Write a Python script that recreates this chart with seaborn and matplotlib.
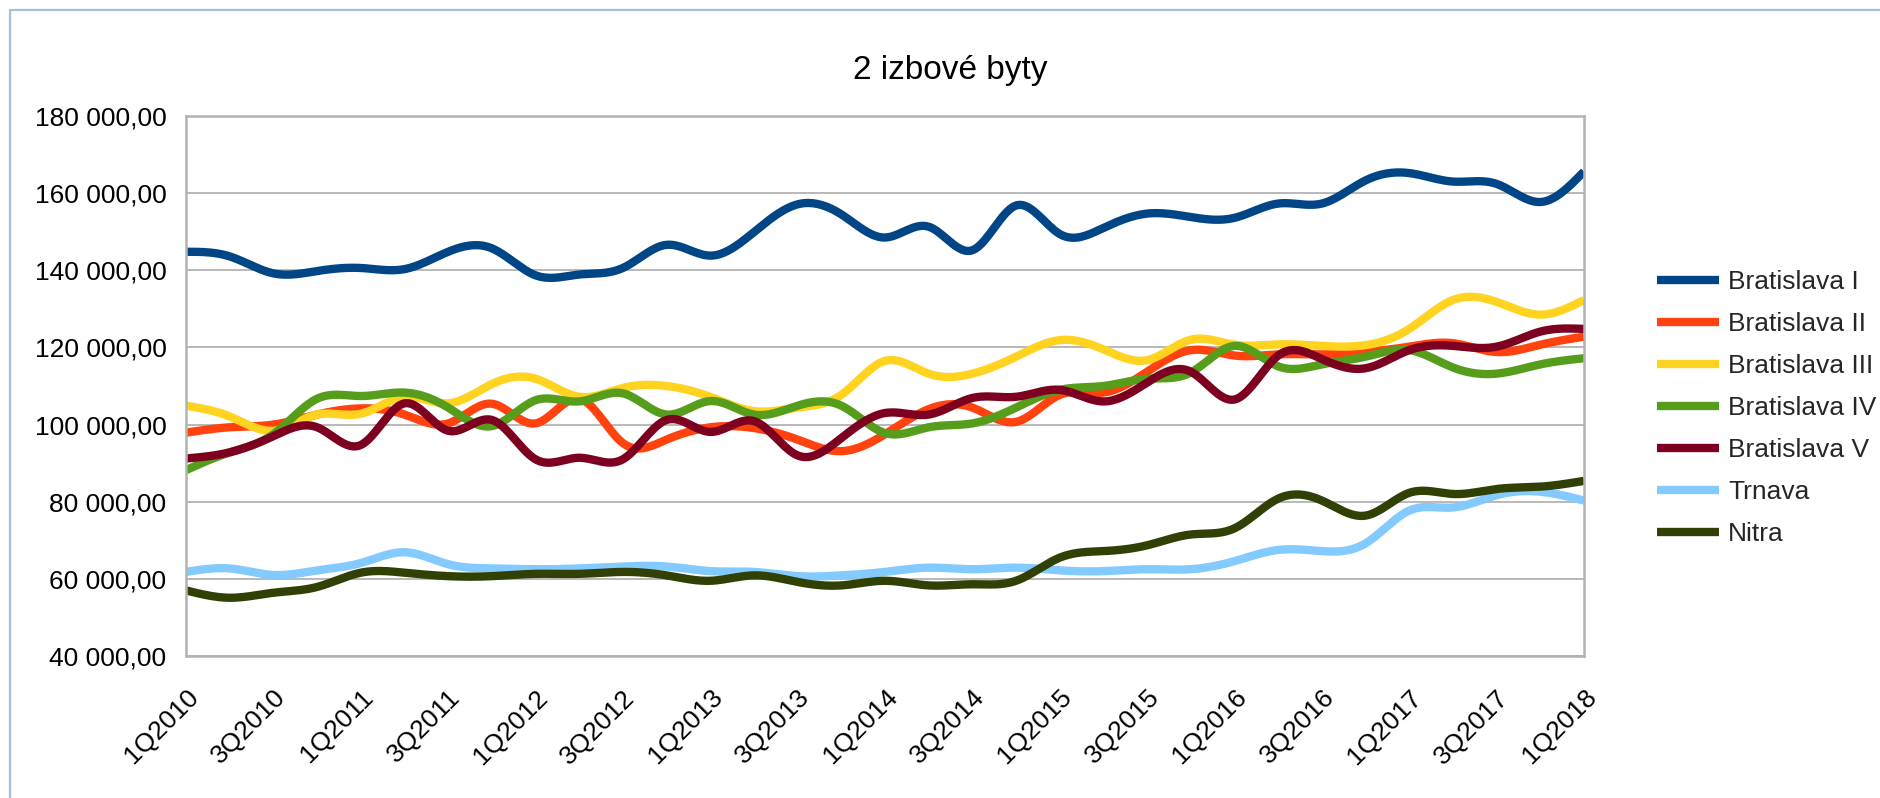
import numpy as np
import pandas as pd
import matplotlib
matplotlib.use("Agg")
import matplotlib.pyplot as plt
from matplotlib.lines import Line2D
from matplotlib.ticker import FuncFormatter
import seaborn as sns

quarters = ["1Q2010", "2Q2010", "3Q2010", "4Q2010",
            "1Q2011", "2Q2011", "3Q2011", "4Q2011",
            "1Q2012", "2Q2012", "3Q2012", "4Q2012",
            "1Q2013", "2Q2013", "3Q2013", "4Q2013",
            "1Q2014", "2Q2014", "3Q2014", "4Q2014",
            "1Q2015", "2Q2015", "3Q2015", "4Q2015",
            "1Q2016", "2Q2016", "3Q2016", "4Q2016",
            "1Q2017", "2Q2017", "3Q2017", "4Q2017",
            "1Q2018"]

series_names = ["Bratislava I", "Bratislava II", "Bratislava III", "Bratislava IV",
                "Bratislava V", "Trnava", "Nitra"]

bratislava_1 = [144800, 143600, 139200, 139800, 140600, 140300, 144800, 145700,
                138700, 138900, 140600, 146600, 143800, 149900, 157100, 154500,
                148500, 151300, 145200, 156800, 149400, 151000, 154700, 153800,
                153600, 157300, 157300, 163300, 165200, 163000, 162400, 157700,
                165600]
bratislava_2 = [97900, 99300, 100000, 102600, 104200, 102600, 100300, 105400,
                100300, 106700, 95200, 96100, 99300, 99100, 96100, 93100,
                97500, 104000, 104400, 100700, 107700, 108300, 113700, 119300,
                117900, 118200, 118200, 118800, 120200, 121100, 118800, 120700,
                122800]
bratislava_3 = [104900, 102100, 98400, 102600, 102800, 107200, 105500, 110500,
                111900, 107200, 109500, 110000, 107200, 103500, 104400, 107700,
                116500, 113200, 113200, 117600, 121900, 119500, 116700, 122000,
                120700, 120800, 120400, 120600, 124800, 132300, 131800, 128500,
                132300]
bratislava_4 = [88200, 92800, 97500, 106700, 107400, 108300, 104400, 99600,
                106300, 106000, 108100, 102600, 106100, 102600, 104900, 104900,
                97800, 99300, 100300, 104400, 109000, 110000, 111900, 113500,
                120400, 115100, 115600, 117600, 119300, 114800, 113200, 115600,
                117200]
bratislava_5 = [91200, 92800, 97000, 99300, 94700, 105500, 98400, 101200,
                91000, 91400, 91000, 101200, 98100, 100900, 92000, 96500,
                103000, 102600, 106900, 107200, 109000, 106000, 110900, 113700,
                106500, 117900, 117000, 114600, 119300, 120400, 120200, 124100,
                124800]
trnava = [61800, 62700, 61000, 62200, 64100, 66900, 63800, 62700,
          62500, 62700, 63200, 63200, 62000, 61800, 60700, 60900,
          61800, 62900, 62500, 62900, 62200, 62000, 62500, 62500,
          64600, 67500, 67200, 69200, 77700, 78500, 81700, 82600,
          80300]
nitra = [57000, 55100, 56400, 57900, 61600, 61600, 60700, 60700,
         61300, 61300, 61800, 60900, 59500, 60900, 59200, 58300,
         59500, 58300, 58600, 59500, 65500, 67200, 68700, 71500,
         73100, 80800, 80300, 76400, 82300, 82000, 83300, 83900,
         85400]

colors = ["#004586", "#ff420e", "#ffd320", "#579d1c", "#7e0021", "#83caff", "#314004"]
all_series = [bratislava_1, bratislava_2, bratislava_3, bratislava_4,
              bratislava_5, trnava, nitra]


def natural_spline(y, n_per=20):
    """Natural cubic spline through the data points (the chart's smooth line type)."""
    y = np.asarray(y, dtype=float)
    n = len(y)
    x = np.arange(n, dtype=float)
    A = np.zeros((n, n))
    b = np.zeros(n)
    A[0, 0] = A[-1, -1] = 1.0
    for i in range(1, n - 1):
        A[i, i - 1] = 1.0
        A[i, i] = 4.0
        A[i, i + 1] = 1.0
        b[i] = 6.0 * (y[i + 1] - 2 * y[i] + y[i - 1])
    M = np.linalg.solve(A, b)
    xs, ys = [], []
    for i in range(n - 1):
        t = np.linspace(0, 1, n_per, endpoint=(i == n - 2))
        a = 1 - t
        val = a * y[i] + t * y[i + 1] + ((a ** 3 - a) * M[i] + (t ** 3 - t) * M[i + 1]) / 6.0
        xs.append(x[i] + t)
        ys.append(val)
    return np.concatenate(xs), np.concatenate(ys)


frames = []
for name, vals in zip(series_names, all_series):
    xs, ys = natural_spline(vals)
    frames.append(pd.DataFrame({"x": xs, "value": ys, "series": name}))
df = pd.concat(frames, ignore_index=True)

sns.set_style("white")
plt.rcParams["font.family"] = ["Liberation Sans", "DejaVu Sans"]

W, H = 1881, 798
fig = plt.figure(figsize=(W / 100, H / 100), dpi=100)
L, R, T, B = 186, 1584, 116, 656
ax = fig.add_axes([L / W, 1 - B / H, (R - L) / W, (B - T) / H])

LW = 6.0
sns.lineplot(data=df, x="x", y="value", hue="series", hue_order=series_names,
             palette=colors, estimator=None, sort=False, linewidth=LW,
             ax=ax, legend=False, solid_capstyle="butt")

ax.set_xlim(0, len(quarters) - 1)
ax.set_ylim(40000, 180000)
ax.set_yticks(np.arange(40000, 180001, 20000))
ax.yaxis.set_major_formatter(FuncFormatter(
    lambda v, p: f"{v:,.2f}".replace(",", " ").replace(".", ",")))
ax.set_xticks(range(len(quarters)))
ax.set_xticklabels([q if i % 2 == 0 else "" for i, q in enumerate(quarters)],
                   rotation=45, ha="right", va="top", rotation_mode="anchor")
ax.set_xlabel("")
ax.set_ylabel("")

grid_c = "#b3b3b3"
ax.grid(axis="y", color=grid_c, linewidth=1.3)
ax.grid(axis="x", visible=False)
ax.set_axisbelow(True)
for s in ax.spines.values():
    s.set_color(grid_c)
    s.set_linewidth(1.8)
ax.tick_params(axis="y", length=8, width=1.5, color=grid_c, labelsize=19, pad=6,
               labelcolor="#000000")
ax.tick_params(axis="x", length=9, width=1.5, color=grid_c, labelsize=19, pad=12,
               labelcolor="#000000")

handles = [Line2D([0], [0], color=c, lw=LW, solid_capstyle="butt") for c in colors]
fig.legend(handles, series_names, loc="center left",
           bbox_to_anchor=(1657 / W, 1 - 408 / H), frameon=False,
           fontsize=19, handlelength=2.35, handletextpad=0.35,
           labelspacing=0.68, borderpad=0, borderaxespad=0)

fig.text(950 / W, 1 - 79 / H, "2 izbové byty", ha="center", va="baseline",
         fontsize=24, color="#000000")

bc = "#a9bedb"
fig.add_artist(Line2D([10 / W, 1], [1 - 9.5 / H, 1 - 9.5 / H],
                      transform=fig.transFigure, color=bc, lw=1.6))
fig.add_artist(Line2D([10 / W, 10 / W], [0, 1 - 9.5 / H],
                      transform=fig.transFigure, color=bc, lw=1.6))

fig.savefig("out.png", dpi=100, facecolor="white")
